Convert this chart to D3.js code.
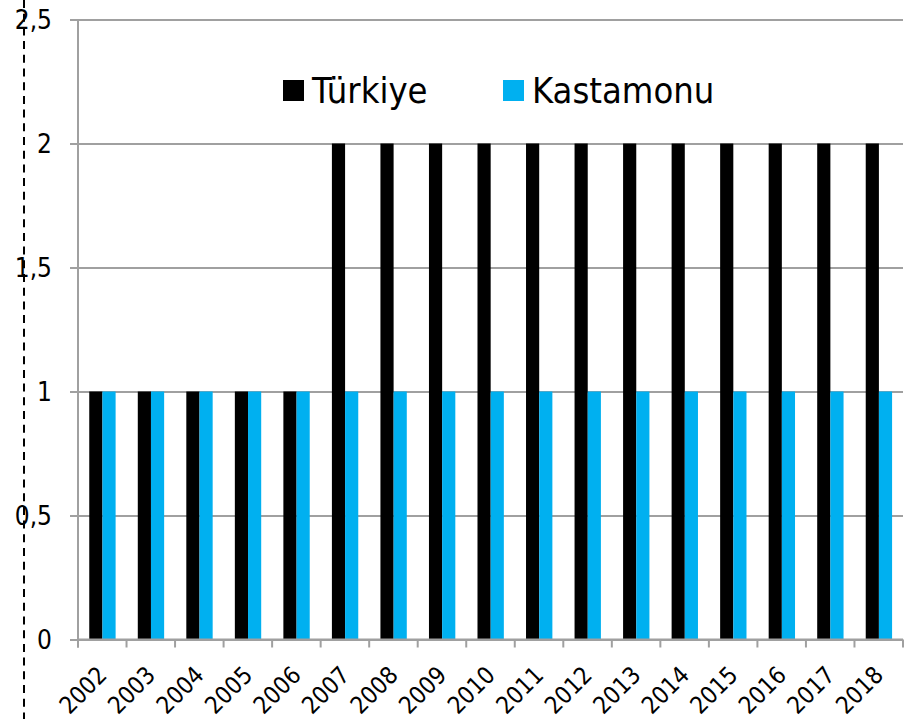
<!DOCTYPE html>
<html>
<head>
<meta charset="utf-8">
<script src="https://cdn.jsdelivr.net/npm/d3@7"></script>
<style>
  body { margin: 0; background: #fff; }
  text { font-family: "DejaVu Sans Condensed", "DejaVu Sans", sans-serif; fill: #000; }
</style>
</head>
<body>
<script>
// yearly counts, Türkiye vs Kastamonu

const years = ['2002','2003','2004','2005','2006','2007','2008','2009','2010',
  '2011','2012','2013','2014','2015','2016','2017','2018'];
const turkiye   = [1,1,1,1,1,2,2,2,2,2,2,2,2,2,2,2,2];
const kastamonu = [1,1,1,1,1,1,1,1,1,1,1,1,1,1,1,1,1];
const seriesNames = ['Türkiye', 'Kastamonu'];
const seriesColors = ['#000000', '#00b0f0'];
const yTickValues = [0, 0.5, 1, 1.5, 2, 2.5];

const svgWidth = 911;
const svgHeight = 719;
const plotLeft = 78, plotRight = 903, plotTop = 19.5, plotBottom = 639.5;

const svg = d3.select('body').append('svg')
  .attr('width', svgWidth)
  .attr('height', svgHeight);

const xScale = d3.scaleBand()
  .domain(years)
  .range([plotLeft, plotRight]);

const bw = xScale.bandwidth();
const xSub = d3.scaleBand()
  .domain(seriesNames)
  .range([bw * 0.232, bw * 0.775]);

const yScale = d3.scaleLinear()
  .domain([0, 2.5])
  .range([plotBottom, plotTop]);

// dashed line at far left
svg.append('line')
  .attr('x1', 24).attr('x2', 24)
  .attr('y1', 0).attr('y2', svgHeight)
  .attr('stroke', '#000')
  .attr('stroke-width', 2)
  .attr('stroke-dasharray', '8,5.7');

// gridlines + y ticks
const yAxis = d3.axisLeft(yScale)
  .tickValues(yTickValues)
  .tickSize(-(plotRight - plotLeft))
  .tickFormat(d => d3.format('')(d).replace('.', ','));

const gy = svg.append('g')
  .attr('transform', `translate(${plotLeft},0)`)
  .call(yAxis);
gy.select('.domain').remove();
gy.selectAll('.tick line')
  .attr('x1', -8)
  .attr('stroke', '#a0a0a0')
  .attr('stroke-width', 2);
gy.selectAll('.tick text')
  .attr('x', -26)
  .attr('dy', '0.36em')
  .style('font-size', '26px');

// bars
const groups = svg.selectAll('g.year')
  .data(years.map((y, i) => ({ year: y, vals: [turkiye[i], kastamonu[i]] })))
  .enter()
  .append('g')
  .attr('class', 'year')
  .attr('transform', d => `translate(${xScale(d.year)},0)`);

groups.selectAll('rect')
  .data(d => d.vals.map((v, j) => ({ name: seriesNames[j], value: v, color: seriesColors[j] })))
  .enter()
  .append('rect')
  .attr('x', d => xSub(d.name))
  .attr('width', xSub.bandwidth())
  .attr('y', d => yScale(d.value))
  .attr('height', d => yScale(0) - yScale(d.value))
  .attr('fill', d => d.color);

// y axis line
svg.append('line')
  .attr('x1', plotLeft).attr('x2', plotLeft)
  .attr('y1', plotTop).attr('y2', plotBottom + 8)
  .attr('stroke', '#a0a0a0')
  .attr('stroke-width', 2);

// x axis line
svg.append('line')
  .attr('x1', plotLeft).attr('x2', plotRight)
  .attr('y1', plotBottom).attr('y2', plotBottom)
  .attr('stroke', '#a0a0a0')
  .attr('stroke-width', 2);

// category boundary ticks
svg.selectAll('line.xtick')
  .data(years.concat(['end']))
  .enter()
  .append('line')
  .attr('class', 'xtick')
  .attr('x1', d => d === 'end' ? plotRight : xScale(d))
  .attr('x2', d => d === 'end' ? plotRight : xScale(d))
  .attr('y1', plotBottom)
  .attr('y2', plotBottom + 8)
  .attr('stroke', '#a0a0a0')
  .attr('stroke-width', 2);

// rotated year labels
svg.selectAll('text.xlabel')
  .data(years)
  .enter()
  .append('text')
  .attr('class', 'xlabel')
  .attr('text-anchor', 'end')
  .attr('transform', d => `translate(${xScale(d) + bw / 2 + 6},${plotBottom + 37}) rotate(-45)`)
  .style('font-size', '24px')
  .text(d => d);

// legend
const legendX = [283, 503];
const legend = svg.selectAll('g.legend')
  .data(seriesNames)
  .enter()
  .append('g')
  .attr('class', 'legend')
  .attr('transform', (d, i) => `translate(${legendX[i]},80)`);

legend.append('rect')
  .attr('width', 21)
  .attr('height', 21)
  .attr('fill', (d, i) => seriesColors[i]);

legend.append('text')
  .attr('x', 29)
  .attr('y', 23)
  .style('font-size', '36px')
  .text(d => d);
</script>
</body>
</html>
